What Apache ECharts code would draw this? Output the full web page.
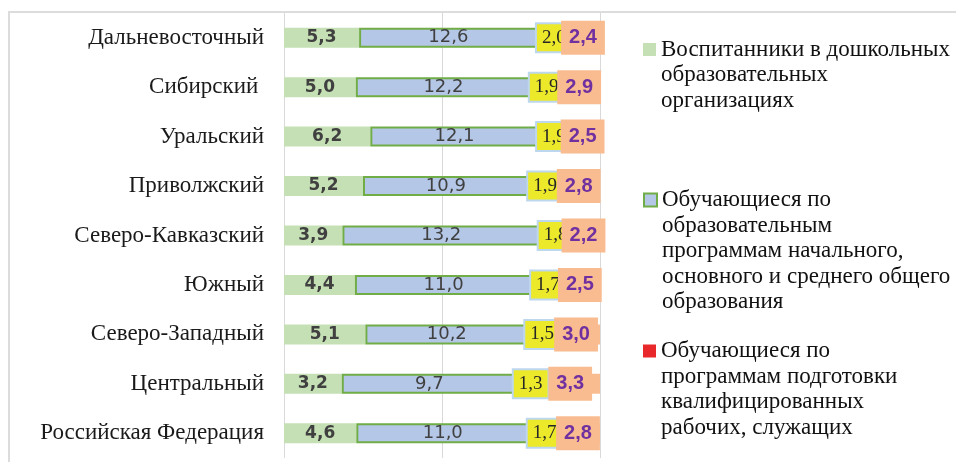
<!DOCTYPE html>
<html>
<head>
<meta charset="utf-8">
<script src="https://cdn.jsdelivr.net/npm/echarts@6/dist/echarts.min.js"></script>
<style>
  html, body { margin: 0; padding: 0; background: #fff; }
  #wrap { position: relative; width: 956px; height: 469px; overflow: hidden; }
  #frame { position: absolute; left: 8px; top: 11px; width: 1000px; height: 449px;
           border-left: 2px solid #dcdcdc; border-top: 2px solid #dcdcdc; }
  #chart { position: absolute; left: 0; top: 0; width: 956px; height: 469px; }
</style>
</head>
<body>
<div id="wrap">
  <div id="frame"></div>
  <div id="chart"></div>
</div>
<script>
// regions, top to bottom
const regions = ['Дальневосточный', 'Сибирский ', 'Уральский', 'Приволжский', 'Северо-Кавказский',
  'Южный', 'Северо-Западный', 'Центральный', 'Российская Федерация'];

// shares shown in the labels
const preschool = [5.3, 5.0, 6.2, 5.2, 3.9, 4.4, 5.1, 3.2, 4.6];
const general = [12.6, 12.2, 12.1, 10.9, 13.2, 11.0, 10.2, 9.7, 11.0];
const vocational = [2.0, 1.9, 1.9, 1.9, 1.8, 1.7, 1.5, 1.3, 1.7];
const other = [2.4, 2.9, 2.5, 2.8, 2.2, 2.5, 3.0, 3.3, 2.8];

const names = [
  'Воспитанники в дошкольных\nобразовательных\nорганизациях',
  'Обучающиеся по\nобразовательным\nпрограммам начального,\nосновного и среднего общего\nобразования',
  'Обучающиеся по\nпрограммам подготовки\nквалифицированных\nрабочих, служащих',
  'Прочие'
];

// 100% stacked: each row scaled to its own total
const totals = regions.map((r, i) => preschool[i] + general[i] + vocational[i] + other[i]);
const pct = arr => arr.map((v, i) => v / totals[i] * 100);
const fmt = arr => p => arr[p.dataIndex].toFixed(1).replace('.', ',');

const LH = 25.5;
// legend text is centred on the marker, so pad with empty lines on top
// to put the marker next to the first line
function legendFor(name, firstLineY) {
  const n = name.split('\n').length;
  return {
    data: [name],
    orient: 'vertical',
    left: 643,
    top: firstLineY - (n - 1) * LH - LH / 2,
    padding: 0,
    itemWidth: 13,
    itemHeight: 13,
    icon: 'rect',
    selectedMode: false,
    formatter: nm => '\n'.repeat(n - 1) + nm,
    textStyle: {
      fontFamily: 'Liberation Serif',
      fontSize: 23,
      color: '#111',
      lineHeight: LH
    }
  };
}

const chart = echarts.init(document.getElementById('chart'));
chart.setOption({
  animation: false,
  grid: { left: 284, right: 356, top: 13, bottom: 11 },
  legend: [
    legendFor(names[0], 49.5),
    legendFor(names[1], 200),
    legendFor(names[2], 351)
  ],
  xAxis: {
    type: 'value',
    min: 0,
    max: 100,
    interval: 50,
    axisLabel: { show: false },
    axisLine: { show: false },
    axisTick: { show: false },
    splitLine: { lineStyle: { color: '#d9d9d9', width: 1 } }
  },
  yAxis: {
    type: 'category',
    data: regions,
    inverse: true,
    axisLine: { show: false },
    axisTick: { show: false },
    axisLabel: {
      fontFamily: 'Liberation Serif',
      fontSize: 23,
      color: '#1a1a1a',
      margin: 20
    }
  },
  series: [
    {
      name: names[0],
      type: 'bar',
      stack: 'all',
      barWidth: 20,
      data: pct(preschool),
      itemStyle: { color: '#c5e0b4' },
      label: {
        show: true,
        position: 'inside',
        formatter: fmt(preschool),
        fontFamily: 'DejaVu Sans',
        fontWeight: 'bold',
        fontSize: 17,
        color: '#404040'
      }
    },
    {
      name: names[1],
      type: 'bar',
      stack: 'all',
      data: pct(general),
      itemStyle: { color: '#b4c7e7', borderColor: '#70ad47', borderWidth: 2 },
      label: {
        show: true,
        position: 'inside',
        formatter: fmt(general),
        fontFamily: 'DejaVu Sans',
        fontSize: 18,
        color: '#404040'
      }
    },
    {
      name: names[2],
      type: 'bar',
      stack: 'all',
      data: pct(vocational),
      itemStyle: { color: '#e8282b' },
      label: {
        show: true,
        position: 'inside',
        offset: [2, 0],
        formatter: fmt(vocational),
        fontFamily: 'Liberation Serif',
        fontSize: 19,
        color: '#262626',
        backgroundColor: '#ece92b',
        borderColor: '#bdd7ee',
        borderWidth: 2,
        padding: [5, 5, 3, 5]
      }
    },
    {
      name: names[3],
      type: 'bar',
      stack: 'all',
      data: pct(other),
      itemStyle: { color: '#f8bc90' },
      label: {
        show: true,
        position: 'inside',
        formatter: fmt(other),
        fontFamily: 'Liberation Sans',
        fontWeight: 'bold',
        fontSize: 20,
        color: '#7030a0',
        backgroundColor: '#f8bc90',
        padding: [8, 8, 6, 8]
      }
    }
  ]
});
</script>
</body>
</html>
